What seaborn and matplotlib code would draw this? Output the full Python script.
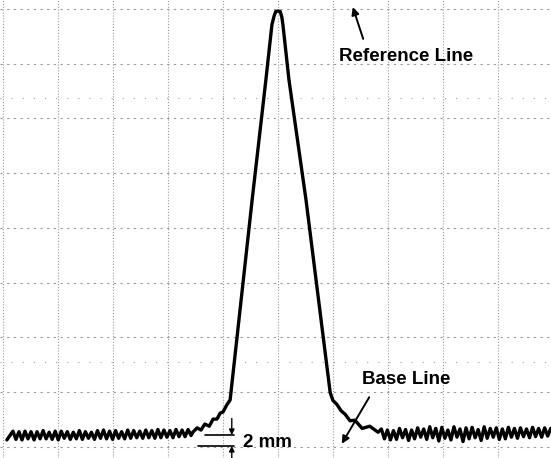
import numpy as np
import pandas as pd
import seaborn as sns
import matplotlib.pyplot as plt

# chart paper units are mm (grid squares are 10 mm)
# noisy baseline left of the peak (recorder samples every ~0.55 mm)
left_x0, left_x1 = 1.8, 34.2
left_y = [2.9, 1.4, 2.8, 1.3, 2.9, 1.5, 2.8, 1.3, 2.8, 1.5, 3.0, 1.5, 2.7, 1.4, 2.9,
          1.3, 2.9, 1.6, 2.8, 1.4, 2.7, 1.5, 3.0, 1.4, 2.8, 1.6, 2.7, 1.4, 3.0, 1.6,
          3.1, 1.5, 2.9, 1.4, 3.0, 1.6, 2.8, 1.5, 3.1, 1.6, 3.0, 1.7, 2.9, 1.6, 3.1,
          1.7, 3.0, 1.6, 3.2, 1.7, 3.1, 1.8, 3.0, 1.7, 3.2, 1.9, 3.1, 1.9, 3.2, 2.1]

# peak: rise, apex, fall and tail
peak_x = [0.7, 34.5, 35.3, 36.0, 36.7, 37.5, 38.2, 38.9, 39.5, 40.0, 40.7, 41.3,
          45.3, 47.8, 48.9, 49.3, 49.6, 50.0, 50.4, 50.7, 50.9, 52.0, 55.1, 59.5,
          60.0, 60.7, 61.5, 62.2, 63.1, 64.0, 65.3, 66.7, 68.2]
peak_y = [1.3, 2.7, 3.5, 3.1, 4.2, 3.8, 5.1, 5.1, 6.2, 6.4, 7.7, 8.6,
          45.1, 67.0, 77.1, 78.7, 79.5, 79.6, 79.5, 78.5, 77.1, 67.0, 45.1, 9.9,
          8.5, 7.8, 6.6, 6.0, 4.8, 4.9, 3.4, 3.8, 2.7]

# noisy baseline right of the peak
right_x0, right_x1 = 68.8, 99.6
right_y = [3.3, 1.5, 3.1, 1.3, 3.0, 1.4, 3.4, 1.7, 3.2, 1.2, 3.1, 1.5, 3.5, 1.8, 3.3,
           1.4, 3.7, 1.7, 3.4, 1.1, 3.6, 1.6, 3.1, 1.3, 3.7, 1.8, 3.3, 1.0, 3.5, 1.5,
           3.6, 1.7, 3.2, 1.2, 3.7, 1.6, 3.4, 1.8, 3.5, 1.4, 3.3, 1.5, 3.6, 1.8, 3.4,
           1.6, 3.5, 1.9, 3.3, 1.7, 3.6, 1.9, 3.4, 1.8, 3.5, 2.0, 3.4]

grid_x = list(range(0, 100, 10))
grid_y = list(range(0, 90, 10))
faint_y = [15.5, 63.7]

# Build the trace in drawing order
lx = np.linspace(left_x0, left_x1, len(left_y))
rx = np.linspace(right_x0, right_x1, len(right_y))
xs = [peak_x[0]] + list(lx) + peak_x[1:] + list(rx)
ys = [peak_y[0]] + left_y + peak_y[1:] + right_y
df = pd.DataFrame({"x": xs, "y": ys})

sns.set_style("white")
plt.rcParams["font.family"] = ["Liberation Sans", "DejaVu Sans"]

fig = plt.figure(figsize=(5.51, 4.58), dpi=100)
ax = fig.add_axes([0, 0, 1, 1])

# Chart paper grid
for gx in grid_x:
    ax.axvline(gx, color="#999999", lw=0.8, ls=(0, (1, 1.6)), zorder=0)
for gy in grid_y:
    ax.axhline(gy, color="#999999", lw=0.8, ls=(0, (2, 4)), zorder=0)
for gy in faint_y:
    ax.axhline(gy, color="#a0a0a0", lw=0.8, ls=(0, (1, 9)), zorder=0)

# Recorder trace
sns.lineplot(data=df, x="x", y="y", sort=False, estimator=None, color="black",
             lw=2.4, ax=ax, zorder=3)

ax.set_xlim(-0.55, 99.65)
ax.set_ylim(-2.0, 81.6)
ax.set_xticks([])
ax.set_yticks([])
ax.set_xlabel("")
ax.set_ylabel("")
for s in ax.spines.values():
    s.set_visible(False)

bold = dict(fontsize=13.5, fontweight="bold", color="black")

# Reference line label
ax.text(73.3, 71.2, "Reference Line", ha="center", va="center", **bold)
ax.annotate("", xy=(63.6, 80.3), xytext=(65.5, 74.5),
            arrowprops=dict(arrowstyle="-|>", color="black", lw=1.4,
                            mutation_scale=11, shrinkA=0, shrinkB=0))

# Base line label
ax.text(73.3, 12.4, "Base Line", ha="center", va="center", **bold)
ax.annotate("", xy=(61.6, 0.6), xytext=(66.6, 9.1),
            arrowprops=dict(arrowstyle="-|>", color="black", lw=1.4,
                            mutation_scale=11, shrinkA=0, shrinkB=0))

# 2 mm scale mark
ax.plot([36.7, 42.0], [2.2, 2.2], color="black", lw=1.2, zorder=4)
ax.plot([35.5, 42.0], [0.2, 0.2], color="black", lw=1.2, zorder=4)
ax.annotate("", xy=(41.6, 2.2), xytext=(41.6, 5.2),
            arrowprops=dict(arrowstyle="-|>", color="black", lw=1.0,
                            mutation_scale=8, shrinkA=0, shrinkB=0))
ax.annotate("", xy=(41.6, 0.2), xytext=(41.6, -2.0),
            arrowprops=dict(arrowstyle="-|>", color="black", lw=1.0,
                            mutation_scale=8, shrinkA=0, shrinkB=0))
ax.text(43.6, 0.9, "2 mm", ha="left", va="center", **bold)

fig.savefig("out.png", dpi=100)
